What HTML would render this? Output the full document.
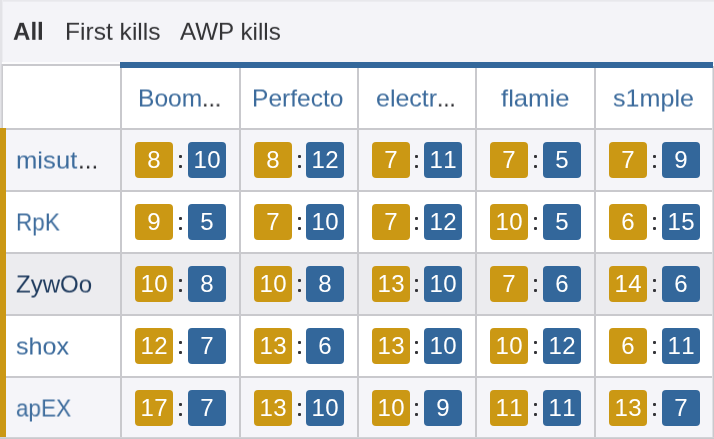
<!DOCTYPE html>
<html><head><meta charset="utf-8"><title>Kill matrix</title>
<style>
html,body{margin:0;padding:0}
body{width:714px;height:439px;overflow:hidden;background:#f4f4f8;position:relative;
 font-family:"Liberation Sans",sans-serif;font-size:24px;color:#2b2b2b}
div{position:absolute;box-sizing:border-box}
.t,.bx{will-change:transform}
.t{white-space:nowrap;line-height:28px;height:28px;transform-origin:0 0}
.lnk{color:#3c6b9c}
.dots{color:#26262a}
.bx{font-kerning:none;letter-spacing:0.4px;text-indent:0.4px;width:38px;height:36px;border-radius:4px;color:#fff;text-align:center;line-height:36px;font-size:24px}
.y{background:#cb9814}
.b{background:#33679b}
.d{width:3px;height:3px;background:#343438;border-radius:1px}
.hl{background:#c9c9cd;height:2px}
.vl{background:#c9c9cd;width:2px}
</style></head>
<body>
<div style="left:0;top:0;width:714px;height:2px;background:linear-gradient(#e6e6ea,#eeeef2)"></div>
<div style="left:0;top:0;width:2px;height:128px;background:#e3e3e7"></div>
<div style="left:2px;top:0;width:1px;height:62px;background:#ececf0"></div>
<div style="left:2px;top:62px;width:118px;height:3px;background:#fcfcfd"></div>
<div style="left:2px;top:64px;width:712px;height:65px;background:#fff"></div>
<div style="left:0;top:128px;width:714px;height:62px;background:#f5f5f9"></div>
<div style="left:0;top:190px;width:714px;height:62px;background:#ffffff"></div>
<div style="left:0;top:252px;width:714px;height:62px;background:#ececef"></div>
<div style="left:0;top:314px;width:714px;height:62px;background:#ffffff"></div>
<div style="left:0;top:376px;width:714px;height:62px;background:#f5f5f9"></div>
<div class="hl" style="left:2px;top:64px;width:120px"></div>
<div class="hl" style="left:0;top:128px;width:714px"></div>
<div class="hl" style="left:0;top:190px;width:714px"></div>
<div class="hl" style="left:0;top:252px;width:714px"></div>
<div class="hl" style="left:0;top:314px;width:714px"></div>
<div class="hl" style="left:0;top:376px;width:714px"></div>
<div style="left:1px;top:64px;height:66px;width:1px;background:#d6d6da"></div>
<div style="left:2px;top:64px;height:66px;width:1px;background:#cbcbcf"></div>
<div class="vl" style="left:120px;top:64px;height:375px"></div>
<div class="vl" style="left:239px;top:64px;height:375px"></div>
<div class="vl" style="left:357px;top:64px;height:375px"></div>
<div class="vl" style="left:475px;top:64px;height:375px"></div>
<div class="vl" style="left:594px;top:64px;height:375px"></div>
<div style="left:712px;top:66px;height:373px;width:1px;background:#e0e0e4"></div>
<div style="left:713px;top:66px;height:373px;width:1px;background:#c9c9cd"></div>
<div style="left:120px;top:62px;width:593px;height:6px;background:#33679b"></div>
<div style="left:0;top:128px;width:6px;height:310px;background:#cb9814"></div>
<div style="left:0;top:437px;width:714px;height:1px;background:#d2d2d6"></div>
<div class="hl" style="left:0;top:438px;width:714px;height:1px"></div>
<div class="t" id="tab0" style="left:13.40px;top:17px;transform:translateY(0.80px) rotate(0.03deg) scaleX(1.0034);color:#333336"><b>All</b></div>
<div class="t" id="tab1" style="left:64.58px;top:17px;transform:translateY(0.80px) rotate(0.03deg) scaleX(1.0239);color:#333336">First kills</div>
<div class="t" id="tab2" style="left:179.80px;top:17px;transform:translateY(0.80px) rotate(0.03deg) scaleX(1.0081);color:#333336">AWP kills</div>
<div class="t" id="h0" style="left:138.37px;top:84px;transform:translateY(0.50px) rotate(0.03deg) scaleX(1.0246);"><span class="lnk">Boom</span></div>
<div class="t" id="h0d" style="left:202.26px;top:84px;transform:translateY(0.50px) rotate(0.03deg) scaleX(0.9688);"><span class="dots">...</span></div>
<div class="t" id="h1" style="left:251.96px;top:84px;transform:translateY(0.50px) rotate(0.03deg) scaleX(1.0239);"><span class="lnk">Perfecto</span></div>
<div class="t" id="h2" style="left:375.96px;top:84px;transform:translateY(0.50px) rotate(0.03deg) scaleX(1.0414);"><span class="lnk">electr</span></div>
<div class="t" id="h2d" style="left:437.12px;top:84px;transform:translateY(0.50px) rotate(0.03deg) scaleX(0.9375);"><span class="dots">...</span></div>
<div class="t" id="h3" style="left:501.17px;top:84px;transform:translateY(0.50px) rotate(0.03deg) scaleX(1.0698);"><span class="lnk">flamie</span></div>
<div class="t" id="h4" style="left:613.36px;top:84px;transform:translateY(0.50px) rotate(0.03deg) scaleX(1.0461);"><span class="lnk">s1mple</span></div>
<div class="t" id="r0" style="left:15.72px;top:146px;transform:translateY(0.50px) rotate(0.03deg) scaleX(1.0684);"><span class="lnk">misut</span></div>
<div class="t" id="r0d" style="left:78.18px;top:146px;transform:translateY(0.50px) rotate(0.03deg) scaleX(1.0125);"><span class="dots">...</span></div>
<div class="t" id="r1" style="left:16.48px;top:208px;transform:translateY(0.50px) rotate(0.03deg) scaleX(0.9400);"><span class="lnk">RpK</span></div>
<div class="t" id="r2" style="left:16.00px;top:270px;transform:translateY(0.50px) rotate(0.03deg) scaleX(1.0027);"><span style="color:#1f3b5e">ZywOo</span></div>
<div class="t" id="r3" style="left:16.36px;top:332px;transform:translateY(0.50px) rotate(0.03deg) scaleX(1.0490);"><span class="lnk">shox</span></div>
<div class="t" id="r4" style="left:16.45px;top:394px;transform:translateY(0.50px) rotate(0.03deg) scaleX(0.9386);"><span class="lnk">apEX</span></div>
<div class="bx y" style="left:135px;top:142px">8</div>
<div class="d" style="left:179px;top:155px"></div>
<div class="d" style="left:179px;top:165px"></div>
<div class="bx b" style="left:188px;top:142px">10</div>
<div class="bx y" style="left:254px;top:142px">8</div>
<div class="d" style="left:298px;top:155px"></div>
<div class="d" style="left:298px;top:165px"></div>
<div class="bx b" style="left:306px;top:142px">12</div>
<div class="bx y" style="left:372px;top:142px">7</div>
<div class="d" style="left:415px;top:155px"></div>
<div class="d" style="left:415px;top:165px"></div>
<div class="bx b" style="left:424px;top:142px">11</div>
<div class="bx y" style="left:490px;top:142px">7</div>
<div class="d" style="left:534px;top:155px"></div>
<div class="d" style="left:534px;top:165px"></div>
<div class="bx b" style="left:543px;top:142px">5</div>
<div class="bx y" style="left:609px;top:142px">7</div>
<div class="d" style="left:653px;top:155px"></div>
<div class="d" style="left:653px;top:165px"></div>
<div class="bx b" style="left:662px;top:142px">9</div>
<div class="bx y" style="left:135px;top:204px">9</div>
<div class="d" style="left:179px;top:217px"></div>
<div class="d" style="left:179px;top:227px"></div>
<div class="bx b" style="left:188px;top:204px">5</div>
<div class="bx y" style="left:254px;top:204px">7</div>
<div class="d" style="left:298px;top:217px"></div>
<div class="d" style="left:298px;top:227px"></div>
<div class="bx b" style="left:306px;top:204px">10</div>
<div class="bx y" style="left:372px;top:204px">7</div>
<div class="d" style="left:415px;top:217px"></div>
<div class="d" style="left:415px;top:227px"></div>
<div class="bx b" style="left:424px;top:204px">12</div>
<div class="bx y" style="left:490px;top:204px">10</div>
<div class="d" style="left:534px;top:217px"></div>
<div class="d" style="left:534px;top:227px"></div>
<div class="bx b" style="left:543px;top:204px">5</div>
<div class="bx y" style="left:609px;top:204px">6</div>
<div class="d" style="left:653px;top:217px"></div>
<div class="d" style="left:653px;top:227px"></div>
<div class="bx b" style="left:662px;top:204px">15</div>
<div class="bx y" style="left:135px;top:266px">10</div>
<div class="d" style="left:179px;top:279px"></div>
<div class="d" style="left:179px;top:289px"></div>
<div class="bx b" style="left:188px;top:266px">8</div>
<div class="bx y" style="left:254px;top:266px">10</div>
<div class="d" style="left:298px;top:279px"></div>
<div class="d" style="left:298px;top:289px"></div>
<div class="bx b" style="left:306px;top:266px">8</div>
<div class="bx y" style="left:372px;top:266px">13</div>
<div class="d" style="left:415px;top:279px"></div>
<div class="d" style="left:415px;top:289px"></div>
<div class="bx b" style="left:424px;top:266px">10</div>
<div class="bx y" style="left:490px;top:266px">7</div>
<div class="d" style="left:534px;top:279px"></div>
<div class="d" style="left:534px;top:289px"></div>
<div class="bx b" style="left:543px;top:266px">6</div>
<div class="bx y" style="left:609px;top:266px">14</div>
<div class="d" style="left:653px;top:279px"></div>
<div class="d" style="left:653px;top:289px"></div>
<div class="bx b" style="left:662px;top:266px">6</div>
<div class="bx y" style="left:135px;top:328px">12</div>
<div class="d" style="left:179px;top:341px"></div>
<div class="d" style="left:179px;top:351px"></div>
<div class="bx b" style="left:188px;top:328px">7</div>
<div class="bx y" style="left:254px;top:328px">13</div>
<div class="d" style="left:298px;top:341px"></div>
<div class="d" style="left:298px;top:351px"></div>
<div class="bx b" style="left:306px;top:328px">6</div>
<div class="bx y" style="left:372px;top:328px">13</div>
<div class="d" style="left:415px;top:341px"></div>
<div class="d" style="left:415px;top:351px"></div>
<div class="bx b" style="left:424px;top:328px">10</div>
<div class="bx y" style="left:490px;top:328px">10</div>
<div class="d" style="left:534px;top:341px"></div>
<div class="d" style="left:534px;top:351px"></div>
<div class="bx b" style="left:543px;top:328px">12</div>
<div class="bx y" style="left:609px;top:328px">6</div>
<div class="d" style="left:653px;top:341px"></div>
<div class="d" style="left:653px;top:351px"></div>
<div class="bx b" style="left:662px;top:328px">11</div>
<div class="bx y" style="left:135px;top:390px">17</div>
<div class="d" style="left:179px;top:403px"></div>
<div class="d" style="left:179px;top:413px"></div>
<div class="bx b" style="left:188px;top:390px">7</div>
<div class="bx y" style="left:254px;top:390px">13</div>
<div class="d" style="left:298px;top:403px"></div>
<div class="d" style="left:298px;top:413px"></div>
<div class="bx b" style="left:306px;top:390px">10</div>
<div class="bx y" style="left:372px;top:390px">10</div>
<div class="d" style="left:415px;top:403px"></div>
<div class="d" style="left:415px;top:413px"></div>
<div class="bx b" style="left:424px;top:390px">9</div>
<div class="bx y" style="left:490px;top:390px">11</div>
<div class="d" style="left:534px;top:403px"></div>
<div class="d" style="left:534px;top:413px"></div>
<div class="bx b" style="left:543px;top:390px">11</div>
<div class="bx y" style="left:609px;top:390px">13</div>
<div class="d" style="left:653px;top:403px"></div>
<div class="d" style="left:653px;top:413px"></div>
<div class="bx b" style="left:662px;top:390px">7</div>
</body></html>
